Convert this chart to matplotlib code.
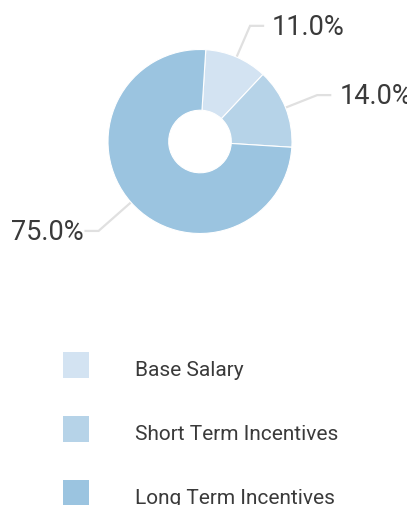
import numpy as np
import matplotlib.pyplot as plt
from matplotlib.patches import Rectangle

# datos del grafico
categorias = ['Base Salary', 'Short Term Incentives', 'Long Term Incentives']
valores = [11.0, 14.0, 75.0]
etiquetas = ['11.0%', '14.0%', '75.0%']
colores = ['#d3e3f2', '#b6d3e8', '#9bc4e0']

W, H = 407, 505
fig = plt.figure(figsize=(W / 100, H / 100), dpi=100)
ax = fig.add_axes([0, 0, 1, 1])

# centro y radio en pixeles (y hacia arriba)
cx, cy, r = 200, H - 141.5, 92
inicio = 86.4

wedges, _ = ax.pie(valores, colors=colores, startangle=inicio, counterclock=False,
                   center=(cx, cy), radius=r,
                   wedgeprops=dict(width=r * 0.66, edgecolor='white', linewidth=0.8))
ax.set_xlim(0, W)
ax.set_ylim(0, H)
ax.set_aspect('equal')
ax.axis('off')

# lineas guia y etiquetas de porcentaje
fuente = dict(family=['Roboto', 'DejaVu Sans'], weight='normal', color='#3a3a3a')
for w, txt in zip(wedges, etiquetas):
    ang = np.deg2rad((w.theta1 + w.theta2) / 2)
    lado = 1 if np.cos(ang) >= 0 else -1
    k = 1.37 if lado > 0 else 1.47
    x0, y0 = cx + r * np.cos(ang), cy + r * np.sin(ang)
    x1, y1 = cx + k * r * np.cos(ang), cy + k * r * np.sin(ang)
    x2 = x1 + lado * 13
    ax.plot([x0, x1, x2], [y0, y1, y1], color='#e0e0e0', lw=1.6,
            solid_joinstyle='miter', zorder=0)
    ax.text(x2 + lado * (9 if lado > 0 else 2), y1 - 9, txt,
            ha='left' if lado > 0 else 'right', va='baseline', fontsize=19.5, **fuente)

# leyenda manual
for i, (cat, col) in enumerate(zip(categorias, colores)):
    yb = H - 376 - 64 * i
    ax.add_patch(Rectangle((63, yb - 2), 26, 26, facecolor=col, edgecolor='none'))
    ax.text(135, yb, cat, ha='left', va='baseline', fontsize=15, **fuente)

plt.savefig('out.png', dpi=100)
